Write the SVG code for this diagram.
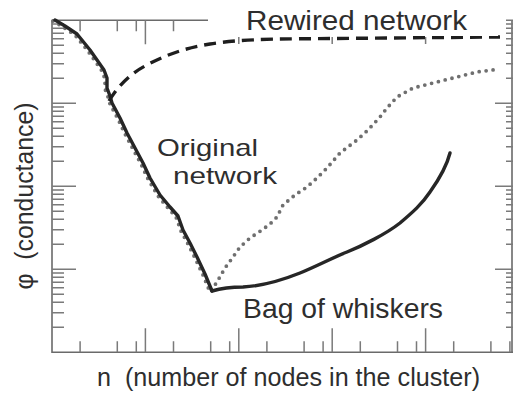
<svg xmlns="http://www.w3.org/2000/svg" width="513" height="393" viewBox="0 0 513 393">
<style>
.ax{stroke:#6a6a6a;stroke-width:1.6;fill:none}
.tk{stroke:#7a7a7a;stroke-width:1.5;fill:none}
.lbl{font-family:"Liberation Sans",Arial,sans-serif;fill:#2e2e2e}
.orig{stroke:#262626;stroke-width:3.4;fill:none;stroke-linejoin:round;stroke-linecap:round}
.dot{stroke:#6f6f6f;stroke-width:3.8;fill:none;stroke-dasharray:0 7;stroke-linecap:round}
.dash{stroke:#1e1e1e;stroke-width:3.4;fill:none;stroke-dasharray:12 7}
</style>
<rect width="513" height="393" fill="#ffffff"/>
<g id="axes">
<path class="ax" d="M52,20.3V352.3H513M52,20.3H208M512,20.3V352.3"/>
<path class="tk" d="M52,24.1h12M52,28.3h12M52,33.2h12M52,38.7h12M52,45.3h12M52,53.3h12M52,63.7h12M52,78.3h12M52,103.3h24M52,107.1h12M52,111.3h12M52,116.2h12M52,121.7h12M52,128.3h12M52,136.3h12M52,146.7h12M52,161.3h12M52,186.3h24M52,190.1h12M52,194.3h12M52,199.2h12M52,204.7h12M52,211.3h12M52,219.3h12M52,229.7h12M52,244.3h12M52,269.3h24M52,273.1h12M52,277.3h12M52,282.2h12M52,287.7h12M52,294.3h12M52,302.3h12M52,312.7h12M52,327.3h12"/>
<path class="tk" d="M513,20.3h-7M513,24.1h-7M513,28.3h-7M513,33.2h-7M513,38.7h-7M513,45.3h-7M513,53.3h-7M513,63.7h-7M513,78.3h-7M513,103.3h-18M513,107.1h-7M513,111.3h-7M513,116.2h-7M513,121.7h-7M513,128.3h-7M513,136.3h-7M513,146.7h-7M513,161.3h-7M513,186.3h-18M513,190.1h-7M513,194.3h-7M513,199.2h-7M513,204.7h-7M513,211.3h-7M513,219.3h-7M513,229.7h-7M513,244.3h-7M513,269.3h-18M513,273.1h-7M513,277.3h-7M513,282.2h-7M513,287.7h-7M513,294.3h-7M513,302.3h-7M513,312.7h-7M513,327.3h-7"/>
<path class="tk" d="M80.1,352.3v-11M117.3,352.3v-11M136.3,352.3v-11M145.4,352.3v-24M173.5,352.3v-11M210.7,352.3v-11M229.7,352.3v-11M238.8,352.3v-24M266.9,352.3v-11M304.1,352.3v-11M323.1,352.3v-11M332.2,352.3v-24M360.3,352.3v-11M397.5,352.3v-11M416.5,352.3v-11M425.6,352.3v-24M453.7,352.3v-11M490.9,352.3v-11M509.9,352.3v-11"/>
<path class="tk" d="M80.1,20.3v11M117.3,20.3v11M136.3,20.3v11M145.4,20.3v24M173.5,20.3v11M238.8,37v7M332.2,37v7M425.6,37v7"/>
</g>
<g id="connectors">
<path id="dotted" class="dot" d="M53,21 L63,27 L75,35 L88,51 L95,61 L102,71 L105,79 L105,89 L108,97 L110,104 L118,119 L125,134 L133,149 L141,164 L148,179 L158,196 L168,208 L176,217 L181,231 L188,244 L195,258 L203,275 L210,292 L217,282 L225,268 L233,257 L240,247 L250,238 L262,230 L270,224 L277,217 L283,205 L295,195 L307,187 L317,178 L327,168 L340,153 L357,140 L368,130 L380,117 L387,108 L397,97 L413,88 L437,82 L457,77 L477,72 L500,69"/>
<path id="original" class="orig" d="M55,20 L65,26 L77,34 L90,50 L97,60 L104,70 L107,78 L107,88 L110,96 L112,103 L120,118 L127,133 L135,148 L143,163 L150,178 L160,195 L170,207 L178,216 L183,230 L190,243 L197,257 L205,274 L212,291"/>
<path id="whiskers" class="orig" d="M212,291 C222,288 232,287 243,287 C262,286 285,279 300,273 C315,267 332,258 347,252 C362,246 386,234 400,223 C413,212 422,204 430,192 C440,178 447,165 450,153"/>
<path id="rewired" class="dash" d="M109,101 C118,86 130,74 145,66 C165,55 185,48 210,44 C235,40 265,39 300,38.8 L500,37"/>
</g>
<g id="label-rewired">
<rect x="208" y="0" width="290" height="36" fill="#ffffff"/>
<text class="lbl" x="246" y="30" font-size="28" textLength="221" lengthAdjust="spacingAndGlyphs">Rewired network</text>
</g>
<g id="label-original">
<text class="lbl" x="157" y="156" font-size="24" textLength="101" lengthAdjust="spacingAndGlyphs">Original</text>
<text class="lbl" x="173" y="184" font-size="24" textLength="104" lengthAdjust="spacingAndGlyphs">network</text>
</g>
<g id="label-whiskers">
<text class="lbl" x="243" y="318" font-size="28" textLength="200" lengthAdjust="spacingAndGlyphs">Bag of whiskers</text>
</g>
<g id="label-x">
<text class="lbl" x="97" y="386" font-size="25" textLength="383" lengthAdjust="spacingAndGlyphs" style="white-space:pre" xml:space="preserve">n  (number of nodes in the cluster)</text>
</g>
<g id="label-y">
<text class="lbl" transform="translate(33,196) rotate(-90)" text-anchor="middle" font-size="25" textLength="187" lengthAdjust="spacingAndGlyphs" style="white-space:pre" xml:space="preserve">φ  (conductance)</text>
</g>
</svg>
